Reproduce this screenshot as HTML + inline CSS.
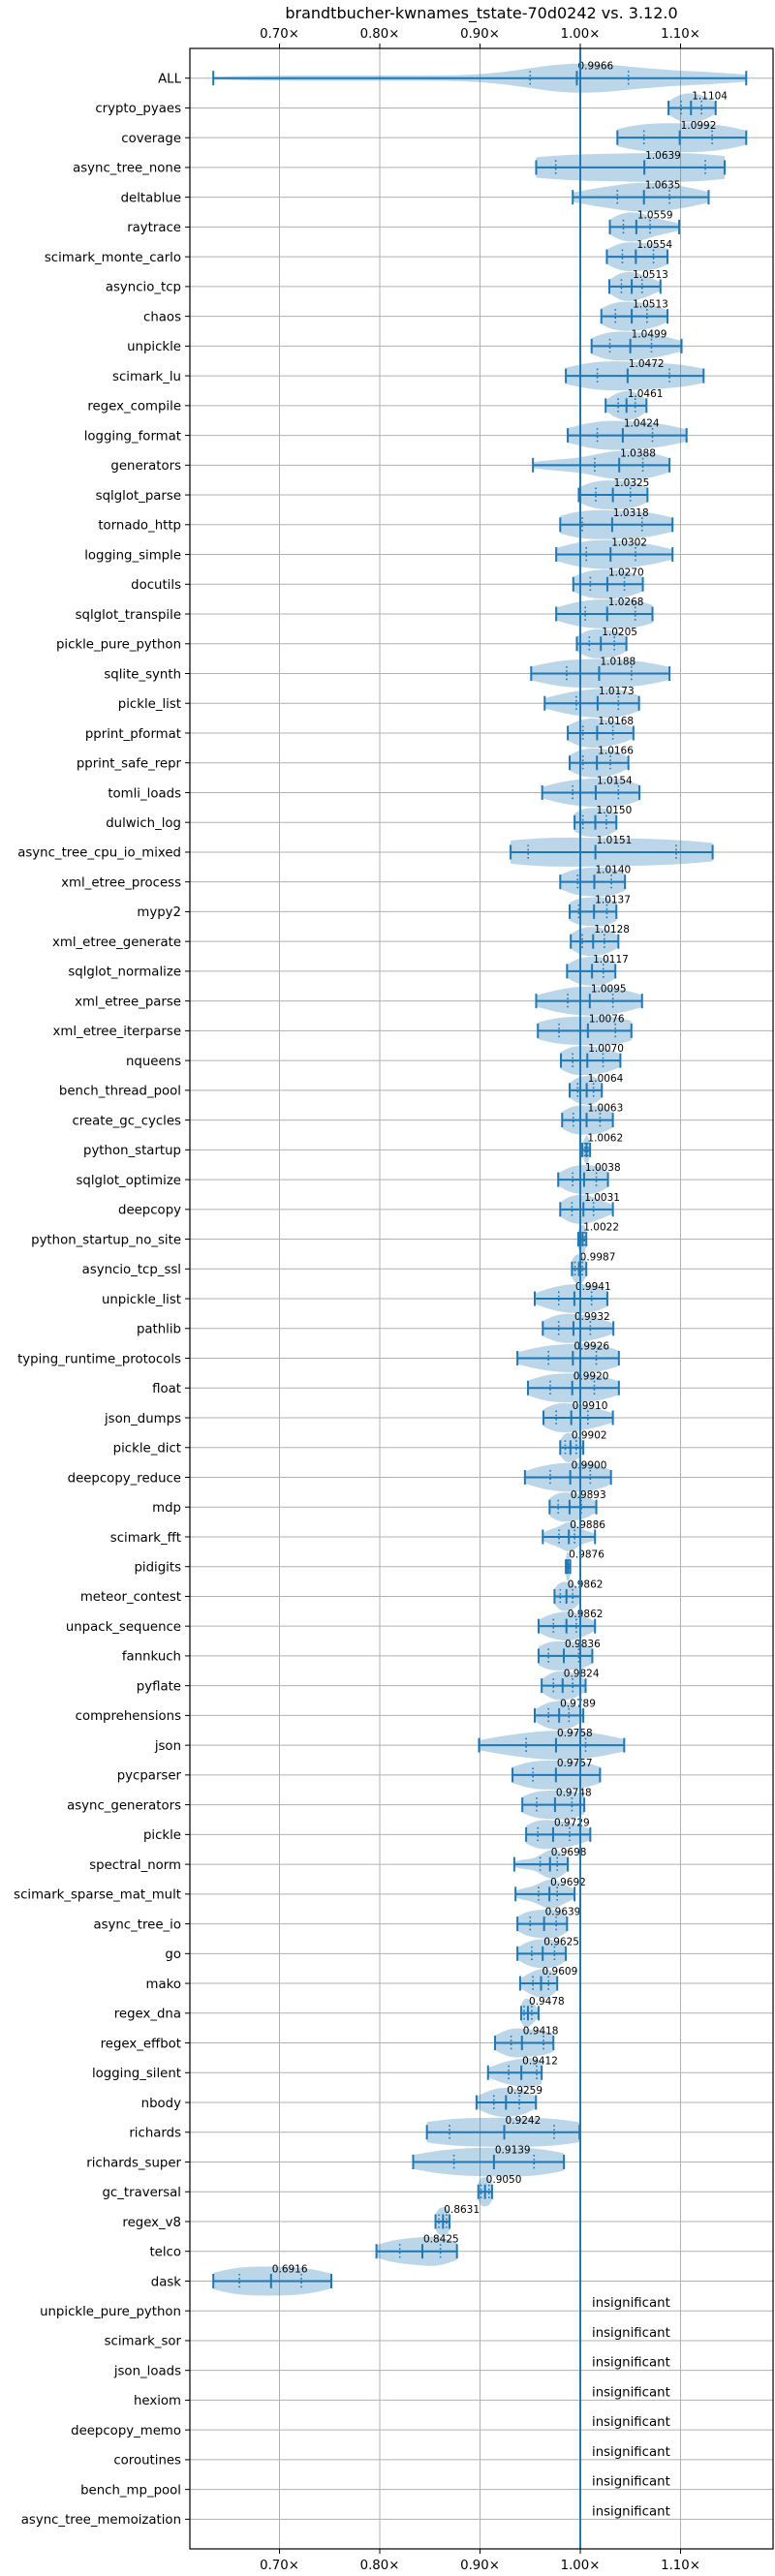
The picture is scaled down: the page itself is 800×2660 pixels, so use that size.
<!DOCTYPE html>
<html><head><meta charset="utf-8"><style>
html,body{margin:0;padding:0;background:#fff;}
svg{display:block;font-family:"DejaVu Sans","Liberation Sans",sans-serif;}
</style></head><body>
<svg id="chart" width="800" height="2660" viewBox="0 0 800 2660" xmlns="http://www.w3.org/2000/svg">
<text x="497" y="19" font-size="16" text-anchor="middle" fill="#000">brandtbucher-kwnames_tstate-70d0242 vs. 3.12.0</text>
<g id="grid"></g><g id="violins"></g><g id="axes"></g>
</svg>
<script>
const categories = ["ALL","crypto_pyaes","coverage","async_tree_none","deltablue","raytrace","scimark_monte_carlo","asyncio_tcp","chaos","unpickle","scimark_lu","regex_compile","logging_format","generators","sqlglot_parse","tornado_http","logging_simple","docutils","sqlglot_transpile","pickle_pure_python","sqlite_synth","pickle_list","pprint_pformat","pprint_safe_repr","tomli_loads","dulwich_log","async_tree_cpu_io_mixed","xml_etree_process","mypy2","xml_etree_generate","sqlglot_normalize","xml_etree_parse","xml_etree_iterparse","nqueens","bench_thread_pool","create_gc_cycles","python_startup","sqlglot_optimize","deepcopy","python_startup_no_site","asyncio_tcp_ssl","unpickle_list","pathlib","typing_runtime_protocols","float","json_dumps","pickle_dict","deepcopy_reduce","mdp","scimark_fft","pidigits","meteor_contest","unpack_sequence","fannkuch","pyflate","comprehensions","json","pycparser","async_generators","pickle","spectral_norm","scimark_sparse_mat_mult","async_tree_io","go","mako","regex_dna","regex_effbot","logging_silent","nbody","richards","richards_super","gc_traversal","regex_v8","telco","dask","unpickle_pure_python","scimark_sor","json_loads","hexiom","deepcopy_memo","coroutines","bench_mp_pool","async_tree_memoization"];
const medians = [0.9966,1.1104,1.0992,1.0639,1.0635,1.0559,1.0554,1.0513,1.0513,1.0499,1.0472,1.0461,1.0424,1.0388,1.0325,1.0318,1.0302,1.0270,1.0268,1.0205,1.0188,1.0173,1.0168,1.0166,1.0154,1.0150,1.0151,1.0140,1.0137,1.0128,1.0117,1.0095,1.0076,1.0070,1.0064,1.0063,1.0062,1.0038,1.0031,1.0022,0.9987,0.9941,0.9932,0.9926,0.9920,0.9910,0.9902,0.9900,0.9893,0.9886,0.9876,0.9862,0.9862,0.9836,0.9824,0.9789,0.9758,0.9757,0.9748,0.9729,0.9698,0.9692,0.9639,0.9625,0.9609,0.9478,0.9418,0.9412,0.9259,0.9242,0.9139,0.9050,0.8631,0.8425,0.6916,null,null,null,null,null,null,null,null];
const mins = [0.634,1.088,1.037,0.956,0.9925,1.0295,1.0265,1.029,1.021,1.0113,0.9856,1.0253,0.9875,0.9528,0.9985,0.980,0.976,0.993,0.976,0.9966,0.951,0.9645,0.9875,0.9894,0.962,0.9943,0.9305,0.980,0.9894,0.9905,0.9868,0.956,0.9577,0.9807,0.9894,0.9819,1.002,0.978,0.980,0.998,0.9917,0.9546,0.9626,0.9373,0.9478,0.9633,0.980,0.9448,0.9694,0.9626,0.9856,0.9743,0.9584,0.9584,0.9615,0.9546,0.899,0.9324,0.9422,0.946,0.9342,0.9354,0.9373,0.9373,0.940,0.941,0.915,0.908,0.8965,0.847,0.8333,0.8983,0.8556,0.7967,0.634,null,null,null,null,null,null,null,null];
const q1s = [0.950,1.1005,1.0635,0.9755,1.037,1.043,1.042,1.041,1.035,1.0295,1.017,1.0378,1.017,1.0144,1.0155,1.002,1.006,1.010,1.005,1.009,0.9864,0.996,1.0026,1.0026,0.9924,1.0026,0.948,0.9974,0.9985,1.002,1.0,0.9875,0.9788,0.9924,0.9974,0.993,1.0045,0.9924,0.9917,0.9995,0.9947,0.9785,0.9785,0.9683,0.970,0.976,0.985,0.970,0.978,0.9788,0.9866,0.980,0.9732,0.9683,0.9732,0.9683,0.946,0.9528,0.9565,0.9577,0.960,0.9584,0.950,0.9516,0.9528,0.944,0.931,0.9286,0.9138,0.8696,0.874,0.901,0.859,0.820,0.660,null,null,null,null,null,null,null,null];
const q3s = [1.048,1.121,1.1315,1.1247,1.089,1.0695,1.073,1.0616,1.0665,1.071,1.089,1.0548,1.072,1.0624,1.050,1.0616,1.055,1.044,1.0548,1.034,1.051,1.038,1.0325,1.030,1.038,1.026,1.0956,1.031,1.0265,1.024,1.023,1.0325,1.035,1.0227,1.0132,1.0197,1.0076,1.016,1.0132,1.004,1.002,1.0113,1.010,1.016,1.014,1.0076,0.996,1.010,1.001,0.9943,0.989,0.9924,0.996,0.9985,0.9924,0.9887,1.0053,1.0,0.9917,0.9894,0.977,0.977,0.976,0.9743,0.9683,0.9516,0.9633,0.9565,0.9392,0.974,0.9539,0.909,0.8666,0.8605,0.7218,null,null,null,null,null,null,null,null];
const maxs = [1.1655,1.135,1.1655,1.144,1.128,1.0986,1.087,1.080,1.087,1.101,1.123,1.066,1.106,1.089,1.067,1.092,1.092,1.0624,1.072,1.046,1.089,1.0586,1.053,1.048,1.059,1.036,1.132,1.0446,1.036,1.038,1.035,1.0616,1.051,1.040,1.0215,1.0325,1.0098,1.0276,1.0325,1.006,1.006,1.027,1.033,1.0385,1.0385,1.0325,1.003,1.0306,1.016,1.0147,0.990,1.0,1.0147,1.012,1.0053,1.003,1.0438,1.0197,1.004,1.010,0.9875,0.9943,0.9868,0.9856,0.977,0.9584,0.9732,0.9615,0.9558,0.9992,0.9837,0.912,0.8696,0.877,0.7517,null,null,null,null,null,null,null,null];
const xTickValues = [0.7,0.8,0.9,1.0,1.1];
const xTickLabels = ["0.70×","0.80×","0.90×","1.00×","1.10×"];

const NS="http://www.w3.org/2000/svg";
const L=196,R=798,T=50,B=2632;
const X=v=>599+(v-1)*1035;
const ROW0=80.7, ROWH=30.74;
const Y=i=>ROW0+i*ROWH;
const BLUE="#1f77b4";
function mk(tag,attrs,parent){const e=document.createElementNS(NS,tag);for(const k in attrs)e.setAttribute(k,attrs[k]);parent.appendChild(e);return e;}
const grid=document.getElementById('grid'),vg=document.getElementById('violins'),ax=document.getElementById('axes');

xTickValues.forEach((v,k)=>{
  const g=mk('line',{x1:X(v),x2:X(v),y1:T,y2:B,stroke:"#b0b0b0","stroke-width":1},grid);
  
  
});
categories.forEach((c,i)=>{
  const g=mk('line',{x1:L,x2:R,y1:Y(i),y2:Y(i),stroke:"#b0b0b0","stroke-width":1},grid);
  
  
});

function violinPath(i){
  const qs=[[0,mins[i]],[0.25,q1s[i]],[0.5,medians[i]],[0.75,q3s[i]],[1,maxs[i]]];
  const inv=p=>{for(let k=1;k<qs.length;k++){if(p<=qs[k][0]){const a=qs[k-1],b=qs[k];return a[1]+(b[1]-a[1])*(p-a[0])/(b[0]-a[0]);}}return qs[4][1];};
  const n=80,s=[];for(let k=0;k<n;k++)s.push(inv((k+0.5)/n));
  const lo=mins[i],hi=maxs[i],span=Math.max(hi-lo,1e-4);
  const iqr=Math.max(q3s[i]-q1s[i],span/20);
  const bw=Math.max(iqr/2.6,span/14);
  const m=80,pts=[];let mx=0;
  for(let k=0;k<=m;k++){const x=lo+span*k/m;let d=0;for(const v of s){const z=(x-v)/bw;d+=Math.exp(-0.5*z*z);}pts.push([x,d]);if(d>mx)mx=d;}
  const y=Y(i),hw=15;
  let top="",bot="";
  pts.forEach((p,k)=>{top+=(k?"L":"M")+X(p[0]).toFixed(1)+","+(y-p[1]/mx*hw).toFixed(1);});
  for(let k=pts.length-1;k>=0;k--){const p=pts[k];bot+="L"+X(p[0]).toFixed(1)+","+(y+p[1]/mx*hw).toFixed(1);}
  return top+bot+"Z";
}
categories.forEach((c,i)=>{
  const y=Y(i);
  if(medians[i]===null){
    const t=mk('text',{x:611,y:y-4,"font-size":13.3,fill:"#000"},vg);t.textContent="insignificant";
    
    
    return;
  }
  const p=mk('path',{d:violinPath(i),fill:BLUE,"fill-opacity":0.3,stroke:"none"},vg);
  
  
  const w=mk('line',{x1:X(mins[i]),x2:X(maxs[i]),y1:y,y2:y,stroke:BLUE,"stroke-width":2},vg);
  
  
  [mins[i],maxs[i],medians[i]].forEach(v=>{
    const e=mk('line',{x1:X(v),x2:X(v),y1:y-7.5,y2:y+7.5,stroke:BLUE,"stroke-width":2},vg);
    
    
  });
  [q1s[i],q3s[i]].forEach(v=>{
    const e=mk('line',{x1:X(v),x2:X(v),y1:y-7.5,y2:y+7.5,stroke:BLUE,"stroke-width":1.6,"stroke-dasharray":"1.6,2.6"},vg);
    
    
  });
  const t=mk('text',{x:X(medians[i])+1,y:y-9,"font-size":10.5,fill:"#000"},vg);t.textContent=medians[i].toFixed(4);
  
  
});
const bl=mk('line',{x1:X(1),x2:X(1),y1:T,y2:B,stroke:BLUE,"stroke-width":2},vg);



const fr=mk('rect',{x:L,y:T,width:R-L,height:B-T,fill:"none",stroke:"#000","stroke-width":1.2},ax);


xTickValues.forEach((v,k)=>{
  mk('line',{x1:X(v),x2:X(v),y1:T-5,y2:T,stroke:"#000","stroke-width":1},ax);
  mk('line',{x1:X(v),x2:X(v),y1:B,y2:B+5,stroke:"#000","stroke-width":1},ax);
  const t1=mk('text',{x:X(v),y:T-11,"font-size":13.3,"text-anchor":"middle",fill:"#000"},ax);t1.textContent=xTickLabels[k];
  
  
  const t2=mk('text',{x:X(v),y:B+21,"font-size":13.3,"text-anchor":"middle",fill:"#000"},ax);t2.textContent=xTickLabels[k];
  
  
});
categories.forEach((c,i)=>{
  mk('line',{x1:L-5,x2:L,y1:Y(i),y2:Y(i),stroke:"#000","stroke-width":1},ax);
  const t=mk('text',{x:L-9,y:Y(i)+4.8,"font-size":13.3,"text-anchor":"end",fill:"#000"},ax);t.textContent=c;
  
  
});
</script>
</body></html>
